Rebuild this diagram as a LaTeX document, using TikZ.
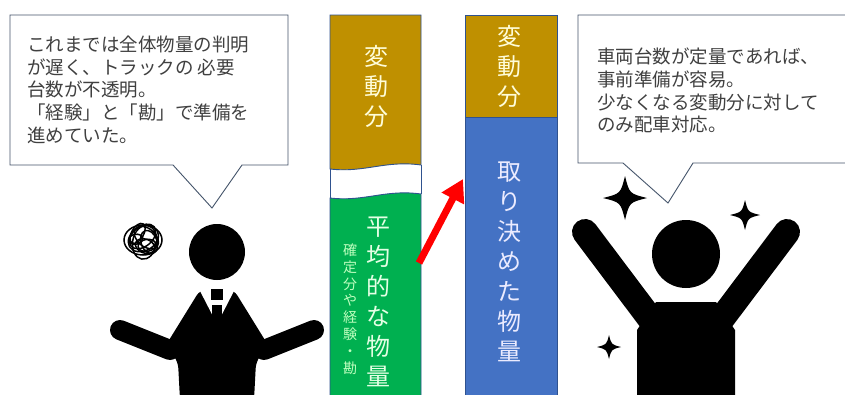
\documentclass[tikz,border=0pt]{standalone}
\usepackage{fontspec}
\setmainfont{Noto Sans CJK JP}
\usetikzlibrary{arrows.meta}

\definecolor{calloutline}{HTML}{44546A}
\definecolor{barline}{HTML}{2F528F}
\definecolor{varfill}{HTML}{BF9000}
\definecolor{avgfill}{HTML}{00B050}
\definecolor{fixfill}{HTML}{4472C4}
\definecolor{textgray}{HTML}{404040}

\tikzset{
  callout/.style={draw=calloutline, fill=white, line width=0.9pt},
  bar/.style={draw=barline, line width=0.9pt},
  calltext/.style={anchor=north west, inner sep=0pt, align=left, text=textgray,
    font=\fontsize{18.5}{22.6}\selectfont},
  bigtext/.style={inner sep=0pt, align=center, font=\fontsize{24}{30}\selectfont},
  smalltext/.style={inner sep=0pt, align=center, font=\fontsize{14}{16.8}\selectfont},
  scribble/.style={line width=1.5pt},
}

\begin{document}
\begin{tikzpicture}[x=1pt, y=-1pt]
  \useasboundingbox (0,0) rectangle (845,394);
  \clip (0,0) rectangle (845,394);
  \fill[white] (0,0) rectangle (845,394);

  % speech bubbles
  \draw[callout] (10,15) -- (288,15) -- (288,165) -- (242,165) -- (212,208)
    -- (173,165) -- (10,165) -- cycle;
  \node[calltext] (before) at (27,36)
    {これまでは全体物量の判明\\が遅く、トラックの 必要\\台数が不透明。\\「経験」と「勘」で準備を\\進めていた。};
  \draw[callout] (578,15) -- (860,15) -- (860,163) -- (693,163) -- (668,203)
    -- (623,163) -- (578,163) -- cycle;
  \node[calltext] (after) at (597,48)
    {車両台数が定量であれば、\\事前準備が容易。\\少なくなる変動分に対して\\のみ配車対応。};

  % left bar, cut between the two parts
  \draw[bar, fill=varfill] (330,15) -- (421,15) -- (421,165)
    .. controls (385,160) and (365,173) .. (330,169) -- cycle;
  \draw[bar, fill=avgfill] (330,400) -- (330,198)
    .. controls (365,202) and (385,189) .. (421,194) -- (421,400) -- cycle;
  \draw[bar] (330,169) -- (330,198) (421,165) -- (421,194);
  \node[bigtext, text=yellow!15] (leftvar) at (376,86) {変\\動\\分};
  \node[bigtext, text=green!10] (average) at (378,302) {平\\均\\的\\な\\物\\量};
  \node[smalltext, text=green!25!white] (basis) at (350,309) {確\\定\\分\\や\\経\\験\\・\\勘};

  % right bar
  \draw[bar, fill=varfill] (465,15) rectangle (557,117);
  \draw[bar, fill=fixfill] (465,117) rectangle (557,400);
  \node[bigtext, text=yellow!15] (rightvar) at (509,66) {変\\動\\分};
  \node[bigtext, text=blue!8] (fixed) at (509,262) {取\\り\\決\\め\\た\\物\\量};

  \coordinate (arrowtail) at (419,263);
  \coordinate (arrowtip) at (463,179);
  \draw[red, line width=7pt, -{Triangle[length=22pt,width=24pt]}] (arrowtail) -- (arrowtip);

  % worried man
  \fill (217,252) circle (28pt);
  \fill[rounded corners=6pt] (200,290) -- (234,290) -- (268,345) -- (256,362)
    -- (254,400) -- (180,400) -- (178,362) -- (166,345) -- cycle;
  \draw[line width=20pt, line cap=round] (120,330) -- (170,350);
  \draw[line width=20pt, line cap=round] (314,330) -- (264,350);
  \fill[white] (199,289) -- (235,289) -- (217,324) -- cycle;
  \fill (211,289) rectangle (223,300);
  \fill (212,305) rectangle (222,334);
  \foreach \a/\rx/\ry/\dx/\dy in {0/19/15/0/0, 40/15/10/2/-3, 80/17/12/-2/2,
      120/12/16/1/1, 160/10/7/-4/-5, 20/8/12/5/4, 100/6/9/-6/3, 60/11/6/3/-8,
      140/14/9/-1/4, 10/7/5/-7/-2}
    \draw[scribble, shift={(143,240)}, rotate=\a] (\dx,\dy) ellipse [x radius=\rx pt, y radius=\ry pt];

  % happy man
  \fill (686,254) circle (34pt);
  \fill (637,400) -- (637,330) -- (656,302) -- (716,302) -- (735,330) -- (735,400) -- cycle;
  \draw[line width=26pt, line cap=round] (585,232) -- (655,325);
  \draw[line width=26pt, line cap=round] (787,232) -- (717,325);
  \foreach \cx/\cy/\r in {625/198/22, 745/215/15, 609/347/12}
    \fill[shift={(\cx,\cy)}, scale=\r] (0,-1) .. controls (0.2,-0.2) .. (1,0)
      .. controls (0.2,0.2) .. (0,1) .. controls (-0.2,0.2) .. (-1,0)
      .. controls (-0.2,-0.2) .. (0,-1) -- cycle;
\end{tikzpicture}
\end{document}
